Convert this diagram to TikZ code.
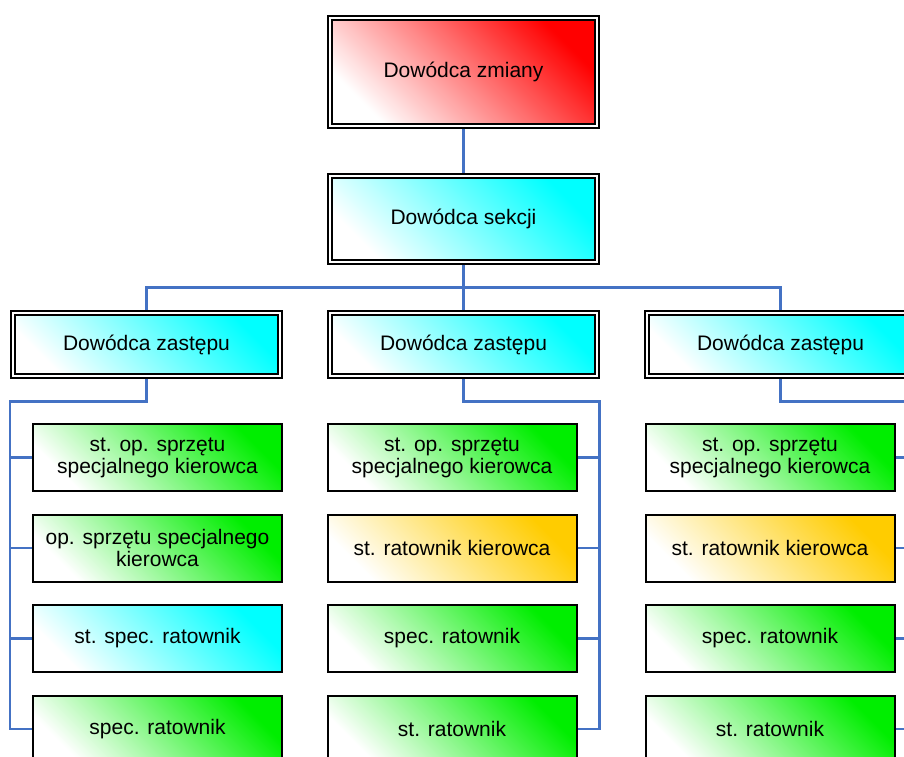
\documentclass[tikz,border=0pt]{standalone}
\usepackage{fontspec}
\setmainfont{Liberation Sans}
\usetikzlibrary{calc,backgrounds}
\definecolor{linkblue}{RGB}{68,114,196}
\definecolor{gld}{RGB}{255,204,0}
\definecolor{grn}{RGB}{0,238,0}
\definecolor{cyn}{RGB}{0,255,255}
\definecolor{rd}{RGB}{255,0,0}
\begin{document}
\begin{tikzpicture}[x=1pt,y=-1pt,
  txt/.style={font=\fontsize{21}{22}\selectfont, align=center, text=black, inner sep=0pt},
  grad/.style={shading=axis, bottom color=white, top color=#1, shading angle=-45},
  bigbox/.style={txt, draw=black, line width=1.7pt, double=white, double distance=2.4pt, minimum width=267.2pt},
  smallbox/.style={txt, draw=black, line width=2pt, minimum width=249pt, minimum height=67pt},
  link/.style={draw=linkblue, line width=2.2pt}]
\useasboundingbox (0,0) rectangle (904,756);
\clip (0,0) rectangle (904,756);

\node[bigbox, grad=rd, minimum height=108.2pt] (dz) at (463.5,72) {Dowódca zmiany};
\node[bigbox, grad=cyn, minimum height=86.2pt] (ds) at (463.5,219) {Dowódca sekcji};
\node[bigbox, grad=cyn, minimum height=63.2pt] (zl) at (146.5,344.5) {Dowódca zastępu};
\node[bigbox, grad=cyn, minimum height=63.2pt] (zm) at (463.5,344.5) {Dowódca zastępu};
\node[bigbox, grad=cyn, minimum height=63.2pt] (zr) at (780.5,344.5) {Dowódca zastępu};

\node[smallbox, grad=grn] (l1) at (157.5,457.5) {st. op. sprzętu\\specjalnego kierowca};
\node[smallbox, grad=grn] (l2) at (157.5,548) {op. sprzętu specjalnego\\kierowca};
\node[smallbox, grad=cyn] (l3) at (157.5,638.5) {st. spec. ratownik};
\node[smallbox, grad=grn] (l4) at (157.5,729) {spec. ratownik};

\node[smallbox, grad=grn] (m1) at (452,457.5) {st. op. sprzętu\\specjalnego kierowca};
\node[smallbox, grad=gld] (m2) at (452,548) {st. ratownik kierowca};
\node[smallbox, grad=grn] (m3) at (452,638.5) {spec. ratownik};
\node[smallbox, grad=grn] (m4) at (452,729) {st. ratownik};

\node[smallbox, grad=grn] (r1) at (770,457.5) {st. op. sprzętu\\specjalnego kierowca};
\node[smallbox, grad=gld] (r2) at (770,548) {st. ratownik kierowca};
\node[smallbox, grad=grn] (r3) at (770,638.5) {spec. ratownik};
\node[smallbox, grad=grn] (r4) at (770,729) {st. ratownik};

\begin{scope}[on background layer]
\draw[link] (dz.south) -- (ds.north);
\draw[link] (ds.south) -- (zm.north);
\draw[link] (zl.north) -- ++(0,-24.5) -| (zr.north);
% left group
\draw[link] (zl.south) -- ++(0,24.5) -| ([xshift=-22pt]l4.west) -- (l4.west);
\draw[link] (l1.west) -- ++(-22,0);
\draw[link] (l2.west) -- ++(-22,0);
\draw[link] (l3.west) -- ++(-22,0);
% middle group
\draw[link] (zm.south) -- ++(0,24.5) -| ([xshift=22pt]m4.east) -- (m4.east);
\draw[link] (m1.east) -- ++(22,0);
\draw[link] (m2.east) -- ++(22,0);
\draw[link] (m3.east) -- ++(22,0);
% right group
\draw[link] (zr.south) -- ++(0,24.5) -| ([xshift=22pt]r4.east) -- (r4.east);
\draw[link] (r1.east) -- ++(22,0);
\draw[link] (r2.east) -- ++(22,0);
\draw[link] (r3.east) -- ++(22,0);
\end{scope}
\end{tikzpicture}
\end{document}
